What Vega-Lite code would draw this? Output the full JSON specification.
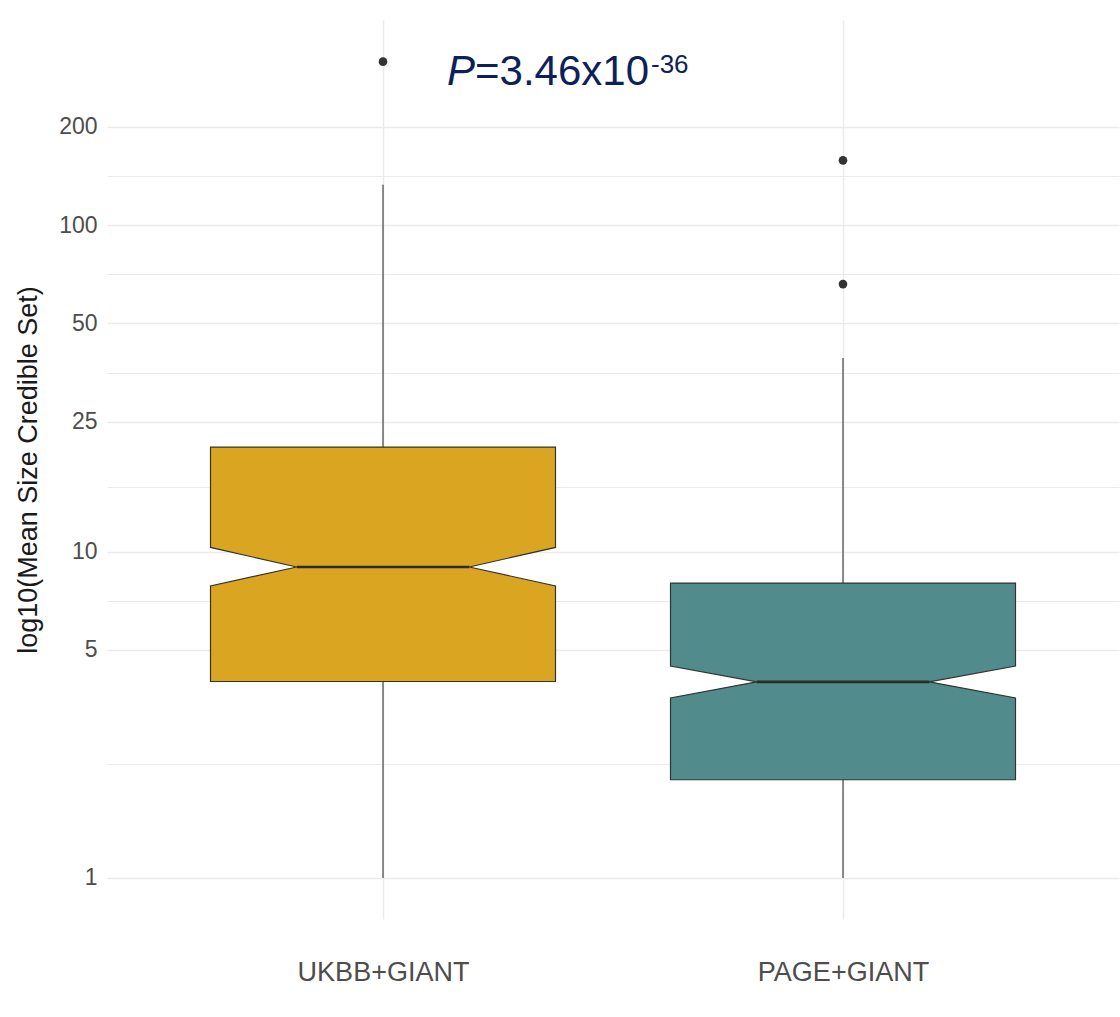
{
  "$schema": "https://vega.github.io/schema/vega-lite/v6.json",
  "autosize": {"type": "none"},
  "padding": {"left": 107, "top": 20, "right": 1, "bottom": 98},
  "width": 1012,
  "height": 899,
  "background": "white",
  "config": {"view": {"stroke": null}, "font": "Liberation Sans"},
  "datasets": {
    "boxes": [
      {"group": "UKBB+GIANT", "idx": 1, "wlo": 1, "q1": 4.0, "nlo": 7.85, "median": 8.97, "nhi": 10.3, "q3": 20.9, "whi": 133},
      {"group": "PAGE+GIANT", "idx": 2, "wlo": 1, "q1": 2.0, "nlo": 3.56, "median": 3.99, "nhi": 4.46, "q3": 8.01, "whi": 39.2}
    ],
    "outliers": [
      {"group": "UKBB+GIANT", "idx": 1, "value": 317},
      {"group": "PAGE+GIANT", "idx": 2, "value": 158},
      {"group": "PAGE+GIANT", "idx": 2, "value": 66}
    ],
    "note": [{"p": "P", "eq": "=3.46x10", "ex": "-36"}]
  },
  "layer": [
    {
      "data": {"name": "boxes"},
      "mark": {"type": "rule", "color": "#333333", "strokeWidth": 1.1},
      "encoding": {
        "x": {
          "field": "idx", "type": "quantitative", "title": null,
          "scale": {"domain": [0.4, 2.6], "nice": false, "zero": false},
          "axis": {
            "values": [1, 2],
            "labelExpr": "datum.value == 1 ? 'UKBB+GIANT' : 'PAGE+GIANT'",
            "title": null, "grid": true, "gridColor": "#ebebeb", "gridWidth": 1.5,
            "ticks": false, "domain": false, "labelFontSize": 27, "labelColor": "#4d4d4d",
            "labelPadding": 40, "labelFlush": false, "labelOverlap": false, "labelFont": "Liberation Sans"
          }
        },
        "y": {
          "field": "wlo", "type": "quantitative", "title": "log10(Mean Size Credible Set)",
          "scale": {"type": "log", "domain": [0.7488, 425.3], "nice": false},
          "axis": {
            "values": [1, 2.236, 5, 7.071, 10, 15.81, 25, 35.36, 50, 70.71, 100, 141.42, 200],
            "labelExpr": "indexof([1,5,10,25,50,100,200], datum.value) >= 0 ? format(datum.value, 'd') : ''",
            "title": "log10(Mean Size Credible Set)",
            "grid": true, "gridColor": "#ebebeb",
            "gridWidth": {"condition": {"test": "indexof([1,5,10,25,50,100,200], datum.value) >= 0", "value": 1.6}, "value": 1.1},
            "ticks": false, "domain": false, "labelFontSize": 23, "labelColor": "#4d4d4d",
            "labelPadding": 10, "labelOverlap": false, "labelFlush": false, "labelFont": "Liberation Sans",
            "titleFontSize": 27, "titleColor": "#1a1a1a", "titleFontWeight": "normal", "titlePadding": 16,
            "titleFont": "Liberation Sans"
          }
        },
        "y2": {"field": "q1"}
      }
    },
    {
      "data": {"name": "boxes"},
      "mark": {"type": "rule", "color": "#333333", "strokeWidth": 1.1},
      "encoding": {
        "x": {"field": "idx", "type": "quantitative", "title": null},
        "y": {"field": "q3", "type": "quantitative", "title": "log10(Mean Size Credible Set)"},
        "y2": {"field": "whi"}
      }
    },
    {
      "data": {"name": "boxes"},
      "transform": [
        {"fold": ["q1", "nlo", "median", "nhi", "q3"], "as": ["stat", "value"]},
        {"calculate": "datum.stat === 'median' ? 0.1875 : 0.375", "as": "hw"},
        {"calculate": "datum.idx - datum.hw", "as": "xl"},
        {"calculate": "datum.idx + datum.hw", "as": "xr"}
      ],
      "mark": {"type": "area", "orient": "horizontal", "stroke": "#333333", "strokeWidth": 1.2, "opacity": 1, "fillOpacity": 1},
      "encoding": {
        "x": {"field": "xl", "type": "quantitative", "title": null},
        "x2": {"field": "xr"},
        "y": {"field": "value", "type": "quantitative", "title": "log10(Mean Size Credible Set)"},
        "color": {
          "field": "group", "type": "nominal",
          "scale": {"domain": ["UKBB+GIANT", "PAGE+GIANT"], "range": ["#DAA520", "#528B8B"]},
          "legend": null
        }
      }
    },
    {
      "data": {"name": "boxes"},
      "transform": [
        {"calculate": "datum.idx - 0.1875", "as": "ml"},
        {"calculate": "datum.idx + 0.1875", "as": "mr"}
      ],
      "mark": {"type": "rule", "color": "#2b2b2b", "strokeWidth": 2.6},
      "encoding": {
        "x": {"field": "ml", "type": "quantitative", "title": null},
        "x2": {"field": "mr"},
        "y": {"field": "median", "type": "quantitative", "title": "log10(Mean Size Credible Set)"}
      }
    },
    {
      "data": {"name": "outliers"},
      "mark": {"type": "point", "filled": true, "shape": "circle", "size": 75, "color": "#333333", "opacity": 1},
      "encoding": {
        "x": {"field": "idx", "type": "quantitative", "title": null},
        "y": {"field": "value", "type": "quantitative", "title": "log10(Mean Size Credible Set)"}
      }
    },
    {
      "data": {"name": "note"},
      "mark": {"type": "text", "align": "right", "baseline": "alphabetic", "fontSize": 42, "fontStyle": "italic", "color": "#0d2158", "font": "Liberation Sans"},
      "encoding": {
        "x": {"datum": 1.2, "type": "quantitative", "title": null},
        "y": {"datum": 268.9, "type": "quantitative", "title": "log10(Mean Size Credible Set)"},
        "text": {"field": "p"}
      }
    },
    {
      "data": {"name": "note"},
      "mark": {"type": "text", "align": "left", "baseline": "alphabetic", "fontSize": 42, "color": "#0d2158", "font": "Liberation Sans"},
      "encoding": {
        "x": {"datum": 1.2, "type": "quantitative", "title": null},
        "y": {"datum": 268.9, "type": "quantitative", "title": "log10(Mean Size Credible Set)"},
        "text": {"field": "eq"}
      }
    },
    {
      "data": {"name": "note"},
      "mark": {"type": "text", "align": "left", "baseline": "alphabetic", "fontSize": 26, "color": "#0d2158", "font": "Liberation Sans"},
      "encoding": {
        "x": {"datum": 1.5826, "type": "quantitative", "title": null},
        "y": {"datum": 292.6, "type": "quantitative", "title": "log10(Mean Size Credible Set)"},
        "text": {"field": "ex"}
      }
    }
  ]
}
